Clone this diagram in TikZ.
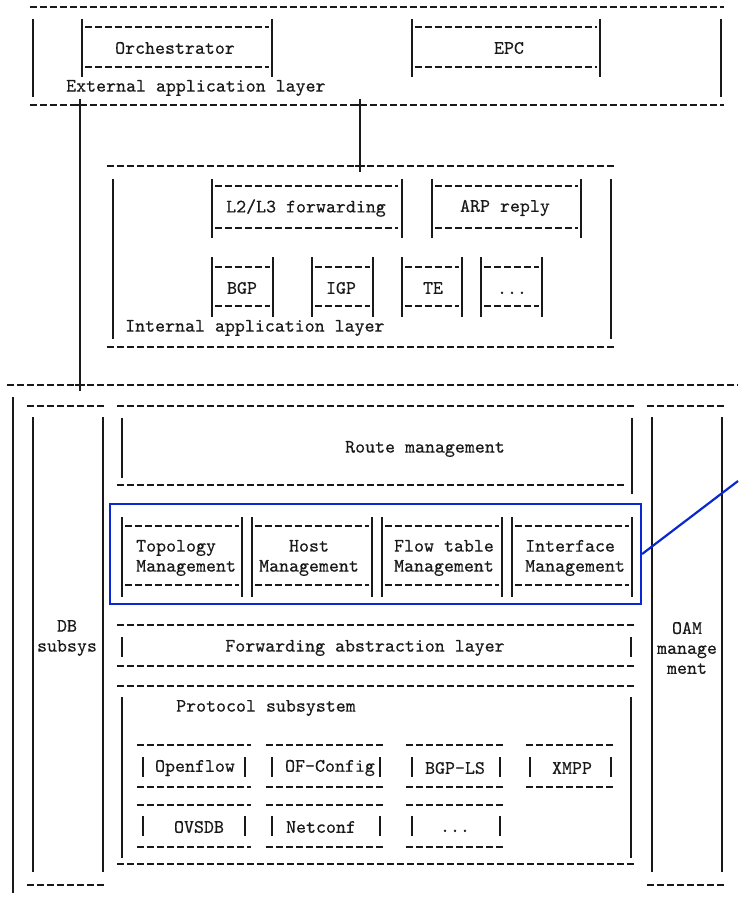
\documentclass[tikz,border=0pt]{standalone}
\usepackage{fontspec}
\newfontfamily\asc[FakeBold=0.35]{lmmono10-regular.otf}
\definecolor{hl}{RGB}{10,40,210}
\definecolor{ink}{RGB}{25,25,25}
\begin{document}
\begin{tikzpicture}[x=1pt,y=-1pt,
  dl/.style={draw=ink,line width=1.2pt,dash pattern=on 7pt off 3pt},
  vl/.style={draw=ink,line width=1.3pt},
  tx/.style={text=ink,font=\asc\fontsize{19}{20}\selectfont,inner sep=0pt,align=center},
  plusmark/.style={draw=ink,line width=1.2pt},
  hlline/.style={draw=hl,line width=2.2pt}]
\useasboundingbox (0,0) rectangle (738,901);

% ---------------- External application layer ----------------
\draw[dl] (30,7) -- (724,7);
\draw[vl] (33,19) -- (33,97);
\draw[vl] (721,19) -- (721,97);
% Orchestrator
\draw[vl] (82,19) -- (82,77);
\draw[vl] (272,19) -- (272,77);
\draw[dl] (85,27) -- (269,27);
\draw[dl] (85,67) -- (269,67);
\node[tx] (orch) at (175,48) {Orchestrator};
% EPC
\draw[vl] (412,19) -- (412,77);
\draw[vl] (600,19) -- (600,77);
\draw[dl] (415,27) -- (597,27);
\draw[dl] (415,67) -- (597,67);
\node[tx] (epc) at (509,48) {EPC};
\node[tx,anchor=west] (ext) at (66,88) {External application layer};
\draw[dl] (30,105) -- (724,105);

% ---------------- Internal application layer ----------------
\draw[dl] (107,166) -- (615,166);
\draw[vl] (113,179) -- (113,339);
\draw[vl] (611,179) -- (611,339);
% L2/L3 forwarding
\draw[vl] (212,179) -- (212,238);
\draw[vl] (402,179) -- (402,238);
\draw[dl] (215,186) -- (398,186);
\draw[dl] (215,228) -- (398,228);
\node[tx] (l2l3) at (306,208) {L2/L3 forwarding};
% ARP reply
\draw[vl] (432,179) -- (432,238);
\draw[vl] (581,179) -- (581,238);
\draw[dl] (435,186) -- (578,186);
\draw[dl] (435,228) -- (578,228);
\node[tx] (arp) at (505,208) {ARP reply};
% BGP
\draw[vl] (212,257) -- (212,317);
\draw[vl] (273,257) -- (273,317);
\draw[dl] (215,267) -- (270,267);
\draw[dl] (215,306) -- (270,306);
\node[tx] (bgp) at (242,288) {BGP};
% IGP
\draw[vl] (312,257) -- (312,317);
\draw[vl] (373,257) -- (373,317);
\draw[dl] (315,267) -- (370,267);
\draw[dl] (315,306) -- (370,306);
\node[tx] (igp) at (341,288) {IGP};
% TE
\draw[vl] (402,257) -- (402,317);
\draw[vl] (462,257) -- (462,317);
\draw[dl] (405,267) -- (459,267);
\draw[dl] (405,306) -- (459,306);
\node[tx] (te) at (433,288) {TE};
% ...
\draw[vl] (481,257) -- (481,317);
\draw[vl] (542,257) -- (542,317);
\draw[dl] (484,267) -- (539,267);
\draw[dl] (484,306) -- (539,306);
\node[tx,anchor=base] (dots1) at (512,294) {...};
\node[tx,anchor=west] (int) at (125,328) {Internal application layer};
\draw[dl] (107,347) -- (615,347);

% ---------------- Lower system ----------------
\draw[dl] (7,385) -- (738,385);
\draw[vl] (13,397) -- (13,893);

% DB subsys
\draw[dl] (27,406) -- (105,406);
\draw[dl] (27,885) -- (105,885);
\draw[vl] (33,417) -- (33,872);
\draw[vl] (103,417) -- (103,872);
\node[tx] (db) at (67,638) {DB\\subsys};

% OAM management
\draw[dl] (647,406) -- (725,406);
\draw[dl] (647,885) -- (725,885);
\draw[vl] (652,417) -- (652,872);
\draw[vl] (722,417) -- (722,872);
\node[tx] (oam) at (687,648) {OAM\\manage\\ment};

% Route management
\draw[dl] (117,406) -- (634,406);
\draw[dl] (117,485) -- (627,485);
\draw[vl] (122,418) -- (122,478);
\draw[vl] (632,418) -- (632,494);
\node[tx] (route) at (425,449) {Route management};

% Management modules
\foreach \l/\r in {122/242,252/372,382/502,512/632}{
  \draw[vl] (\l,517) -- (\l,597);
  \draw[vl] (\r,517) -- (\r,597);
  \draw[dl] (\l+3,526) -- (\r-3,526);
  \draw[dl] (\l+3,585) -- (\r-3,585);
}
\node[tx,align=left,anchor=west] (topo) at (136,558) {Topology\\Management};
\node[tx] (host) at (309,558) {Host\\Management};
\node[tx] (flow) at (444,558) {Flow table\\Management};
\node[tx,align=left,anchor=west] (intf) at (525,558) {Interface\\Management};
\node[draw=hl,line width=2.2pt,minimum width=531pt,minimum height=100pt,inner sep=0pt] (hlbox) at (375.5,554) {};
\coordinate (callout) at (738,481);
\draw[hlline] (hlbox.east) -- (callout);

% Forwarding abstraction layer
\draw[dl] (117,625) -- (634,625);
\draw[dl] (117,666) -- (634,666);
\draw[vl] (122,637) -- (122,657);
\draw[vl] (631,637) -- (631,657);
\node[tx] (fal) at (365,648) {Forwarding abstraction layer};

% Protocol subsystem
\draw[dl] (117,686) -- (634,686);
\draw[dl] (117,864) -- (634,864);
\draw[vl] (122,697) -- (122,858);
\draw[vl] (631,697) -- (631,858);
\node[tx,anchor=west] (proto) at (176,708) {Protocol subsystem};

% protocol row 1
\foreach \a/\b/\l/\r in {137/251/143/245,266/384/272/380,406/504/412/500,526/615/530/611}{
  \draw[dl] (\a,745) -- (\b,745);
  \draw[dl] (\a,787) -- (\b,787);
  \draw[vl] (\l,757) -- (\l,777);
  \draw[vl] (\r,757) -- (\r,777);
}
\node[tx] (of) at (195,768) {Openflow};
\node[tx] (ofc) at (330,768) {OF-Config};
\node[tx] (bgpls) at (455,768) {BGP-LS};
\node[tx] (xmpp) at (572,768) {XMPP};
% protocol row 2
\foreach \a/\b/\l/\r in {137/251/143/245,266/384/272/380,406/504/412/500}{
  \draw[dl] (\a,805) -- (\b,805);
  \draw[dl] (\a,847) -- (\b,847);
  \draw[vl] (\l,816) -- (\l,836);
  \draw[vl] (\r,816) -- (\r,836);
}
\node[tx] (ovsdb) at (199,827) {OVSDB};
\node[tx] (netconf) at (321,827) {Netconf};
\node[tx,anchor=base] (dots2) at (455,832) {...};

% ---------------- Connectors between layers ----------------
\coordinate (a1) at (80,99);
\coordinate (a2) at (80,391);
\coordinate (b1) at (360,99);
\coordinate (b2) at (360,172);
\draw[vl] (a1) -- (a2);
\draw[vl] (b1) -- (b2);
\draw[plusmark] (75,105) -- (85,105);
\draw[plusmark] (355,105) -- (365,105);
\draw[plusmark] (355,166) -- (365,166);
\draw[plusmark] (75,385) -- (85,385);
\end{tikzpicture}
\end{document}
